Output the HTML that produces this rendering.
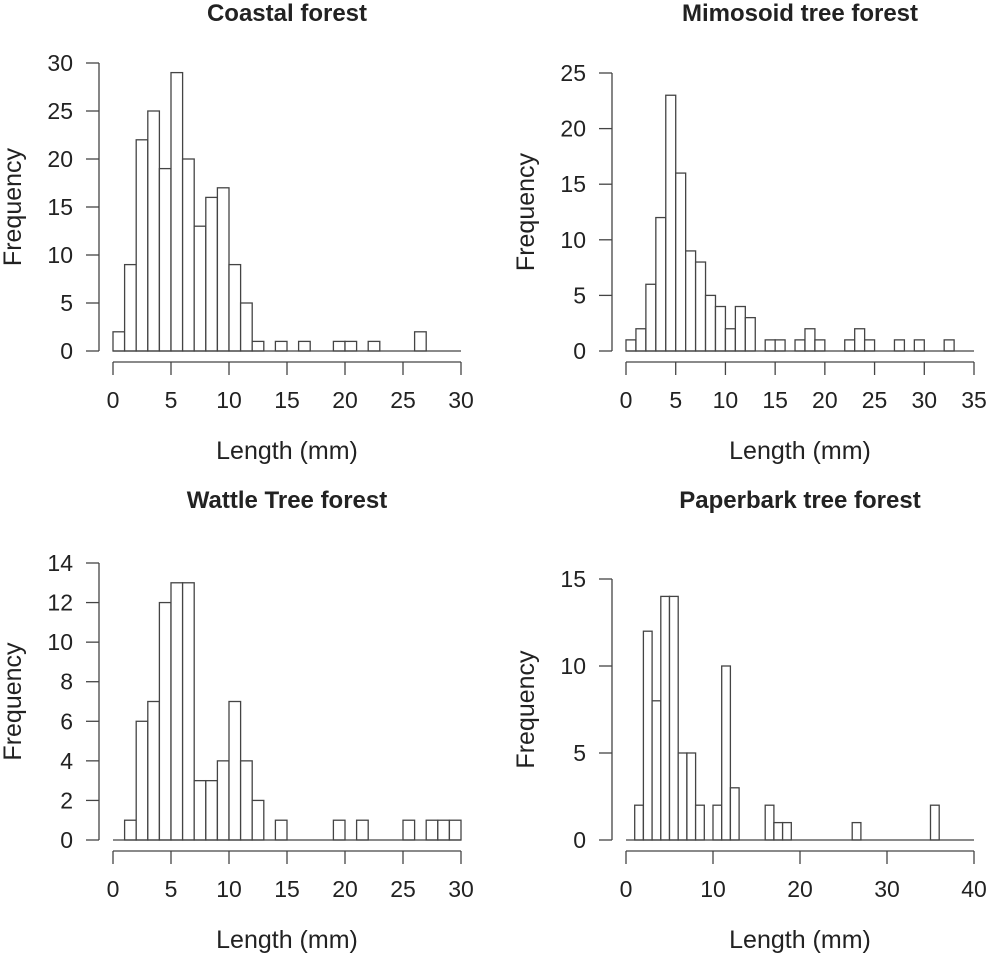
<!DOCTYPE html>
<html><head><meta charset="utf-8"><style>
body{margin:0;background:#fff}
svg{display:block;font-family:"Liberation Sans",Arial,sans-serif}
</style></head><body>
<svg id="c" width="989" height="953" viewBox="0 0 989 953"></svg>
<script>
const titles=["Coastal forest","Mimosoid tree forest","Wattle Tree forest","Paperbark tree forest"];
const coastal=[2,9,22,25,19,29,20,13,16,17,9,5,1,0,1,0,1,0,0,1,1,0,1,0,0,0,2];
const mimosoid=[1,2,6,12,23,16,9,8,5,4,2,4,3,0,1,1,0,1,2,1,0,0,1,2,1,0,0,1,0,1,0,0,1];
const wattle=[0,1,6,7,12,13,13,3,3,4,7,4,2,0,1,0,0,0,0,1,0,1,0,0,0,1,0,1,1,1];
const paperbark=[0,2,12,8,14,14,5,5,2,0,2,10,3,0,0,0,2,1,1,0,0,0,0,0,0,0,1,0,0,0,0,0,0,0,0,2];
const xTicks=[[0,5,10,15,20,25,30],[0,5,10,15,20,25,30,35],[0,5,10,15,20,25,30],[0,10,20,30,40]];
const yTicks=[[0,5,10,15,20,25,30],[0,5,10,15,20,25],[0,2,4,6,8,10,12,14],[0,5,10,15]];
const series=[coastal,mimosoid,wattle,paperbark];
const panels=[
 {x0:113,x1:461,y0:351,y1:63,yax:99,xax:362,tt:12},
 {x0:626,x1:974,y0:351,y1:73,yax:612,xax:362,tt:12},
 {x0:113,x1:461,y0:840,y1:563,yax:99,xax:851,tt:499},
 {x0:626,x1:974,y0:840,y1:579,yax:612,xax:851,tt:499}];
const NS="http://www.w3.org/2000/svg";const svg=document.getElementById('c');
function mk(t,a,p){const e=document.createElementNS(NS,t);for(const k in a)e.setAttribute(k,a[k]);(p||svg).appendChild(e);return e;}
panels.forEach((P,i)=>{
 const g=mk('g',{});
 
 
 const xt=xTicks[i],yt=yTicks[i];
 const xmax=xt[xt.length-1],ymax=yt[yt.length-1];
 const sx=v=>P.x0+(P.x1-P.x0)*v/xmax, sy=v=>P.y0+(P.y1-P.y0)*v/ymax;
 series[i].forEach((v,b)=>{ if(v<=0)return;
  const r=mk('rect',{x:sx(b),y:sy(v),width:sx(b+1)-sx(b),height:sy(0)-sy(v),fill:'#fff',stroke:'#444','stroke-width':1.3},g);
  
  
 });
 const bl=mk('line',{x1:sx(0),x2:sx(xmax),y1:P.y0,y2:P.y0,stroke:'#444','stroke-width':1.3},g);
 
 
 const xa=mk('line',{x1:sx(0),x2:sx(xmax),y1:P.xax,y2:P.xax,stroke:'#444','stroke-width':1.3},g);
 
 
 xt.forEach(t=>{mk('line',{x1:sx(t),x2:sx(t),y1:P.xax,y2:P.xax+13,stroke:'#444','stroke-width':1.3},g);
  const tx=mk('text',{x:sx(t),y:P.xax+46,'font-size':23,'text-anchor':'middle',fill:'#222'},g);tx.textContent=t;
  
  });
 const ya=mk('line',{x1:P.yax,x2:P.yax,y1:sy(0),y2:sy(ymax),stroke:'#444','stroke-width':1.3},g);
 
 
 yt.forEach(t=>{mk('line',{x1:P.yax-13,x2:P.yax,y1:sy(t),y2:sy(t),stroke:'#444','stroke-width':1.3},g);
  const tx=mk('text',{x:P.yax-26,y:sy(t)+8,'font-size':23,'text-anchor':'end',fill:'#222'},g);tx.textContent=t;
  
  });
 const xl=mk('text',{x:(sx(0)+sx(xmax))/2,y:P.xax+97,'font-size':25,'text-anchor':'middle',fill:'#222'},g);xl.textContent='Length (mm)';
 
 
 const yc=(sy(0)+sy(ymax))/2, yx=P.yax-78;
 const yl=mk('text',{x:yx,y:yc,'font-size':25,'text-anchor':'middle',fill:'#222',transform:`rotate(-90 ${yx} ${yc})`},g);yl.textContent='Frequency';
 
 
 const tt=mk('text',{x:(sx(0)+sx(xmax))/2,y:P.tt+9,'font-size':24,'font-weight':'bold','text-anchor':'middle',fill:'#222'},g);tt.textContent=titles[i];
 
 
});
</script>
</body></html>
